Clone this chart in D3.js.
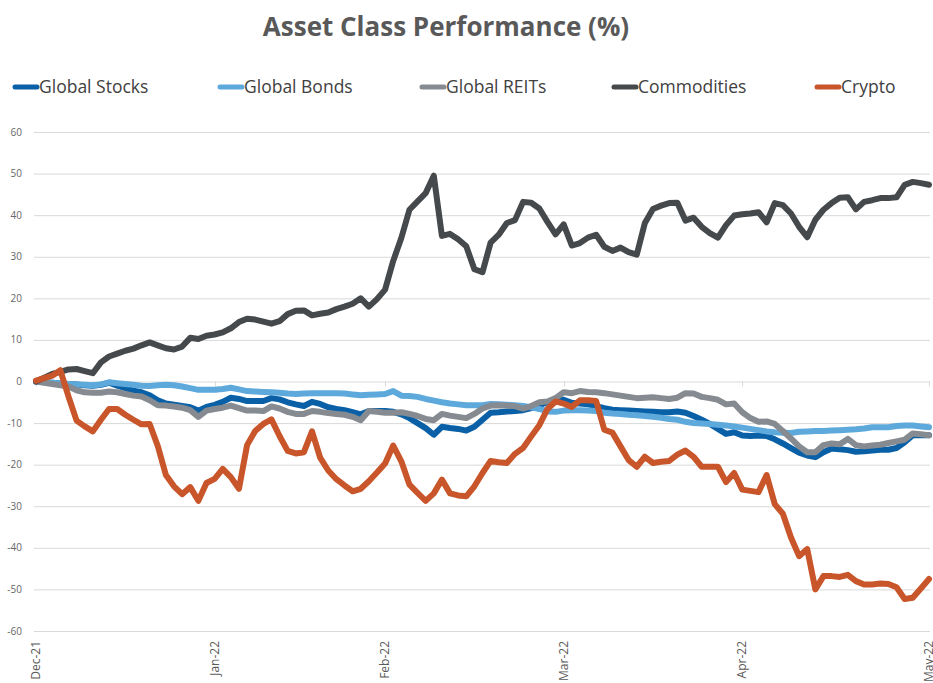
<!DOCTYPE html>
<html>
<head>
<meta charset="utf-8">
<script src="https://cdn.jsdelivr.net/npm/d3@7"></script>
<style>
	body { margin: 0; background: #fff; }
	svg { font-family: "Open Sans", sans-serif; }
</style>
</head>
<body>
<svg width="933" height="683"></svg>
<script>
// Series names and colours, in legend order.
var series_names = ["Global Stocks", "Global Bonds", "Global REITs", "Commodities", "Crypto"];
var series_colors = ["#0a60a6", "#5ea9dc", "#858b90", "#46494c", "#c9552a"];

// Month labels and the trading-day index where each one sits.
var month_labels = ["Dec-21", "Jan-22", "Feb-22", "Mar-22", "Apr-22", "May-22"];
var month_index = [0, 22, 43, 65, 87, 110];

// Y axis ticks.
var y_ticks = [60, 50, 40, 30, 20, 10, 0, -10, -20, -30, -40, -50, -60];

// Cumulative performance (%), one value per trading day.
var global_stocks = [0, -0.15, -0.3, -0.45, -0.6, -0.7, -0.9, -1.0, -0.8, -0.3,
	-1.0, -1.6, -2.2, -2.6, -3.3, -4.5, -5.3, -5.6, -5.9, -6.2,
	-7.0, -6.1, -5.6, -4.9, -3.9, -4.2, -4.7, -4.7, -4.7, -4.0,
	-4.3, -5.0, -5.5, -5.9, -4.9, -5.4, -6.2, -6.6, -6.9, -7.4,
	-7.9, -7.1, -7.1, -7.1, -7.3, -7.9, -8.8, -10.0, -11.2, -12.8,
	-10.9, -11.2, -11.4, -11.8, -10.9, -9.2, -7.5, -7.4, -7.2, -7.1,
	-6.9, -6.4, -5.7, -5.0, -4.3, -4.4, -5.1, -5.3, -5.5, -5.9,
	-6.4, -6.8, -6.9, -7.0, -7.1, -7.2, -7.3, -7.4, -7.4, -7.2,
	-7.5, -8.3, -9.2, -10.2, -11.4, -12.6, -12.2, -13.0, -13.1, -13.0,
	-13.1, -13.9, -14.9, -16.0, -17.1, -17.8, -18.2, -17.0, -16.1, -16.3,
	-16.5, -16.9, -16.8, -16.6, -16.4, -16.4, -16.0, -14.6, -12.9, -12.9, -12.9];

var global_bonds = [0, -0.1, -0.3, -0.5, -0.6, -0.7, -0.8, -0.9, -0.7, -0.2,
	-0.4, -0.6, -0.8, -1.0, -1.1, -0.9, -0.8, -0.9, -1.2, -1.6,
	-2.0, -2.0, -2.0, -1.8, -1.5, -1.9, -2.3, -2.4, -2.5, -2.6,
	-2.7, -2.9, -3.0, -2.9, -2.8, -2.8, -2.8, -2.8, -2.9, -3.1,
	-3.3, -3.2, -3.1, -3.0, -2.3, -3.4, -3.5, -3.7, -4.2, -4.6,
	-5.0, -5.3, -5.5, -5.7, -5.7, -5.7, -5.4, -5.5, -5.6, -5.7,
	-5.9, -6.2, -6.6, -7.2, -7.3, -7.0, -6.9, -6.9, -7.0, -7.1,
	-7.5, -7.7, -7.8, -8.0, -8.1, -8.3, -8.5, -8.7, -9.0, -9.2,
	-9.7, -10.0, -10.1, -10.2, -10.4, -10.6, -10.8, -11.1, -11.4, -11.7,
	-12.0, -12.2, -12.3, -12.4, -12.1, -12.0, -11.9, -11.9, -11.8, -11.7,
	-11.6, -11.5, -11.3, -11.0, -11.0, -11.0, -10.7, -10.6, -10.6, -10.8, -11.0];

var global_reits = [0, -0.3, -0.6, -0.9, -1.2, -2.1, -2.6, -2.7, -2.7, -2.4,
	-2.6, -3.0, -3.4, -3.6, -4.5, -5.7, -5.8, -6.0, -6.3, -6.9,
	-8.5, -7.0, -6.6, -6.3, -5.8, -6.4, -7.0, -7.0, -7.1, -6.0,
	-6.5, -7.3, -7.8, -7.8, -7.1, -7.3, -7.6, -7.8, -8.0, -8.5,
	-9.3, -7.1, -7.3, -7.5, -7.5, -7.4, -7.8, -8.3, -9.0, -9.3,
	-7.8, -8.2, -8.5, -8.8, -7.8, -6.5, -5.8, -5.7, -5.8, -5.9,
	-6.5, -5.9, -5.0, -4.8, -4.0, -2.6, -2.8, -2.3, -2.5, -2.6,
	-2.8, -3.1, -3.4, -3.7, -4.0, -3.9, -3.8, -4.0, -4.2, -3.9,
	-2.8, -2.9, -3.7, -4.0, -4.4, -5.5, -5.3, -7.4, -8.8, -9.7,
	-9.6, -10.2, -11.9, -13.7, -15.6, -17.0, -17.0, -15.3, -14.9, -15.1,
	-13.8, -15.3, -15.6, -15.4, -15.2, -14.8, -14.4, -14.0, -12.5, -12.7, -12.9];

var commodities = [0, 0.9, 1.8, 2.3, 2.9, 3.0, 2.5, 2.0, 4.6, 6.0,
	6.7, 7.4, 7.9, 8.7, 9.4, 8.7, 8.0, 7.7, 8.4, 10.5,
	10.2, 11.0, 11.3, 11.8, 12.8, 14.3, 15.1, 14.9, 14.4, 13.9,
	14.5, 16.2, 17.0, 17.1, 15.9, 16.3, 16.6, 17.4, 18.0, 18.7,
	20.0, 18.0, 19.8, 22.1, 29.0, 34.5, 41.3, 43.3, 45.3, 49.5,
	35.0, 35.5, 34.2, 32.5, 27.0, 26.3, 33.4, 35.3, 38.1, 38.8,
	43.2, 43.0, 41.6, 38.4, 35.4, 37.8, 32.7, 33.3, 34.6, 35.3,
	32.4, 31.4, 32.2, 31.1, 30.5, 38.1, 41.5, 42.3, 42.9, 43.0,
	38.7, 39.4, 37.2, 35.7, 34.6, 37.6, 39.9, 40.2, 40.4, 40.7,
	38.3, 42.9, 42.4, 40.4, 37.2, 34.7, 38.9, 41.3, 42.9, 44.2,
	44.3, 41.4, 43.2, 43.6, 44.1, 44.1, 44.3, 47.3, 48.0, 47.7, 47.3];

var crypto_values = [0.2, 0.8, 1.4, 2.7, -3.6, -9.4, -10.8, -12.0, -9.2, -6.6,
	-6.6, -8.0, -9.2, -10.3, -10.2, -15.5, -22.5, -25.2, -27.1, -25.4,
	-28.7, -24.4, -23.4, -21.0, -23.0, -25.8, -15.3, -11.9, -10.2, -9.1,
	-13.1, -16.7, -17.3, -17.0, -12.0, -18.3, -21.4, -23.5, -25.0, -26.4,
	-25.8, -24.0, -21.9, -19.7, -15.4, -19.2, -24.8, -26.8, -28.7, -26.9,
	-23.6, -26.9, -27.4, -27.6, -25.2, -22.0, -19.1, -19.4, -19.6, -17.4,
	-16.0, -13.2, -10.5, -6.6, -4.8, -5.3, -6.1, -4.5, -4.5, -4.7,
	-11.6, -12.3, -15.6, -18.9, -20.5, -18.1, -19.6, -19.3, -19.1, -17.6,
	-16.6, -18.1, -20.5, -20.5, -20.5, -24.2, -22.0, -26.0, -26.3, -26.6,
	-22.5, -29.5, -31.8, -37.5, -42.0, -40.3, -50.0, -46.8, -46.8, -47.0,
	-46.5, -48.0, -48.8, -48.8, -48.6, -48.7, -49.5, -52.3, -52.0, -49.8, -47.5];

var series_values = [global_stocks, global_bonds, global_reits, commodities, crypto_values];

// Get SVG.
var svg = d3.select("svg");

// Scales.
var x = d3.scaleLinear().domain([0, global_stocks.length - 1]).range([36, 929]);
var y = d3.scaleLinear().domain([-60, 60]).range([631, 132]);

// Title.
svg.append("text")
	.attr("x", 446)
	.attr("y", 36)
	.attr("text-anchor", "middle")
	.attr("font-size", 26)
	.attr("font-weight", 700)
	.attr("fill", "#595959")
	.text("Asset Class Performance (%)");

// Legend.
var legend_x = [13, 218, 420, 612, 815];
var legend = svg.append("g")
	.attr("class", "legend")
	.selectAll("g")
	.data(series_names)
	.enter()
	.append("g")
	.attr("transform", function(d, i) {
		return "translate(" + legend_x[i] + ",87)";
	});
legend.append("line")
	.attr("x1", 2)
	.attr("x2", 24)
	.attr("stroke", function(d, i) {
		return series_colors[i];
	})
	.attr("stroke-width", 5)
	.attr("stroke-linecap", "round");
legend.append("text")
	.attr("x", 26)
	.attr("dy", "0.35em")
	.attr("font-size", 17.5)
	.attr("fill", "#404040")
	.text(function(d) {
		return d;
	});

// Horizontal grid lines and y labels.
var grid = svg.append("g").attr("class", "grid");
grid.selectAll("line")
	.data(y_ticks)
	.enter()
	.append("line")
	.attr("x1", 34)
	.attr("x2", 930)
	.attr("y1", function(d) {
		return y(d) + 0.5;
	})
	.attr("y2", function(d) {
		return y(d) + 0.5;
	})
	.attr("stroke", "#d9d9d9")
	.attr("stroke-width", 1);
grid.selectAll("text")
	.data(y_ticks)
	.enter()
	.append("text")
	.attr("x", 22)
	.attr("y", function(d) {
		return y(d);
	})
	.attr("dy", "0.35em")
	.attr("text-anchor", "end")
	.attr("font-size", 10)
	.attr("fill", "#666666")
	.text(function(d) {
		return d;
	});

// Month ticks on the zero line.
svg.append("g")
	.attr("class", "ticks")
	.selectAll("line")
	.data(month_index)
	.enter()
	.append("line")
	.attr("x1", function(d) {
		return Math.round(x(d)) + 0.5;
	})
	.attr("x2", function(d) {
		return Math.round(x(d)) + 0.5;
	})
	.attr("y1", y(0))
	.attr("y2", y(0) + 5)
	.attr("stroke", "#d9d9d9");

// Rotated month labels at the bottom.
svg.append("g")
	.attr("class", "x-labels")
	.selectAll("text")
	.data(month_labels)
	.enter()
	.append("text")
	.attr("transform", function(d, i) {
		return "translate(" + x(month_index[i]) + ",641) rotate(-90)";
	})
	.attr("dy", "0.35em")
	.attr("text-anchor", "end")
	.attr("font-size", 12)
	.attr("fill", "#595959")
	.text(function(d) {
		return d;
	});

// Draw a line for each series.
var line = d3.line()
	.x(function(d, i) {
		return x(i);
	})
	.y(function(d) {
		return y(d);
	});

svg.append("g")
	.attr("class", "lines")
	.selectAll("path")
	.data(series_values)
	.enter()
	.append("path")
	.attr("d", line)
	.attr("fill", "none")
	.attr("stroke", function(d, i) {
		return series_colors[i];
	})
	.attr("stroke-width", 6)
	.attr("stroke-linejoin", "round")
	.attr("stroke-linecap", "round");
</script>
</body>
</html>
